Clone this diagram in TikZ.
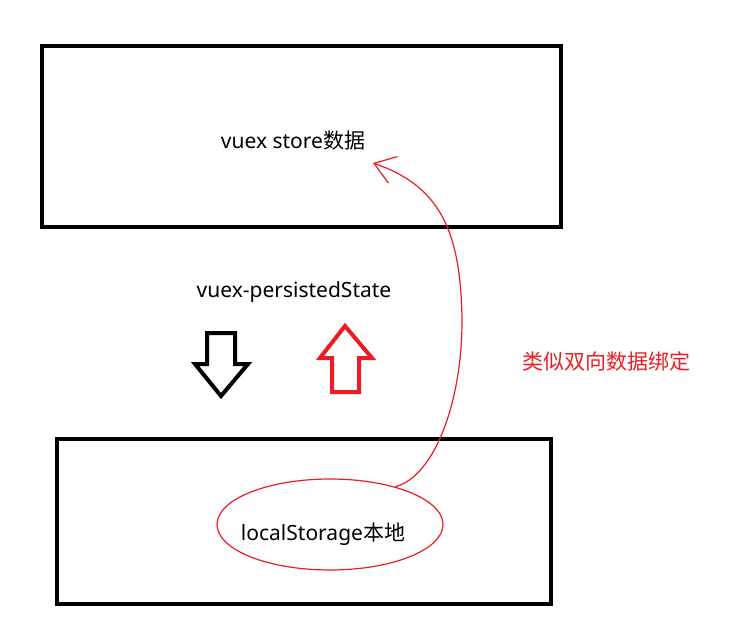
\documentclass[tikz,border=0pt]{standalone}
\usepackage{fontspec}
\setmainfont{Noto Sans}
\newfontfamily\cjk{Noto Sans CJK SC}
\usepackage{xcolor}
\usepackage{tikz}
\usetikzlibrary{arrows.meta,positioning,calc,shapes.geometric}
\definecolor{paintred}{HTML}{ED1C24}

\begin{document}
\begin{tikzpicture}[x=1pt,y=1pt,font=\fontsize{21}{25}\selectfont,
    box/.style={draw,line width=4.5pt,minimum width=519pt,minimum height=181pt},
    txt/.style={inner sep=0pt}]
  \useasboundingbox (0,0) rectangle (730,641);
  % the two stores
  \node[box] (storebox) at (301.5,504.5) {};
  \node[box,minimum width=494pt,minimum height=165pt] (localbox) at (304,119.5) {};
  \node[txt] (store) at (293,500) {vuex store{\cjk 数据}};
  \node[txt] (plugin) at (294,349) {vuex-persistedState};
  \node[txt] (local) at (323,107) {localStorage{\cjk 本地}};
  \node[txt,text=paintred] (bind) at (606,280) {\cjk 类似双向数据绑定};
  % hollow arrows
  \draw[line width=4pt,line join=miter] (207,308) -- (235,308) -- (235,277) -- (248,277)
    -- (221,245) -- (195,277) -- (207,277) -- cycle;
  \draw[paintred,line width=4pt,line join=miter] (345,315) -- (372,283) -- (359,283) -- (359,249)
    -- (332,249) -- (332,283) -- (320,283) -- cycle;
  % hand drawn loop
  \node[draw=paintred,line width=1.2pt,ellipse,minimum width=226pt,minimum height=91pt] (ring) at (330,116.5) {};
  \coordinate (tip) at (373,478);
  \draw[paintred,line width=1.2pt,-{Straight Barb[length=20pt,width=28pt,line width=1.2pt]}]
    (ring.30) .. controls (435,165) and (462,240) .. (462,320)
    .. controls (461,410) and (440,455) .. (tip);
\end{tikzpicture}
\end{document}
